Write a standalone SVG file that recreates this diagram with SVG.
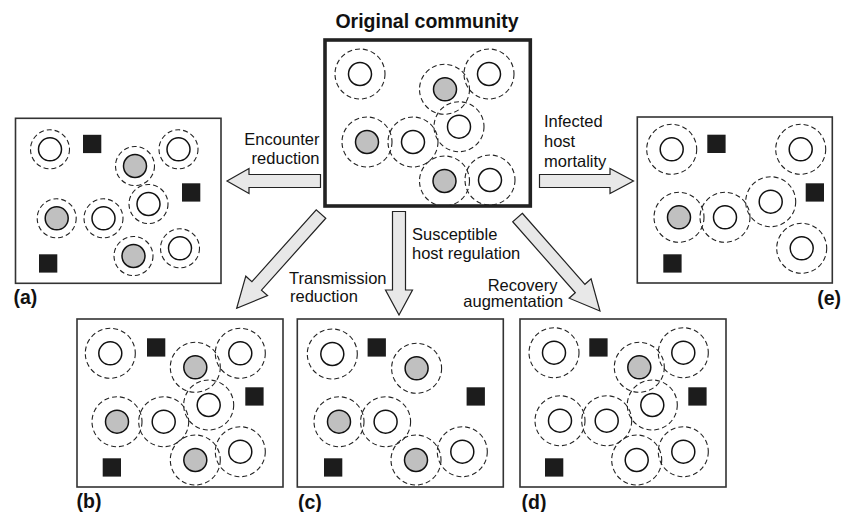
<svg xmlns="http://www.w3.org/2000/svg" width="843" height="512" viewBox="0 0 843 512">
<style>
.box{fill:#fff;stroke:#333;stroke-width:1.6}
.main{fill:#fff;stroke:#222;stroke-width:3.6}
.o{fill:none;stroke:#222;stroke-width:1.1;stroke-dasharray:5 3}
.w{fill:#fff;stroke:#111;stroke-width:1.5}
.g{fill:#c0c0c0;stroke:#111;stroke-width:1.5}
.sq{fill:#1c1c1c}
.arr{fill:#e8e8e8;stroke:#222;stroke-width:1.2;stroke-linejoin:miter}
.t{font-family:"Liberation Sans",Arial,sans-serif;font-size:16.5px;fill:#111}
.lb{font-family:"Liberation Sans",Arial,sans-serif;font-size:19.5px;font-weight:bold;fill:#111}
</style>
<rect width="843" height="512" fill="#fff"/>

<g id="connectors">
  <polygon class="arr" points="227,181 249,168.5 249,174.5 320.5,174.5 320.5,187.5 249,187.5 249,193.5"/>
  <polygon class="arr" points="539.5,174.5 610,174.5 610,168.5 633.5,181 610,193.5 610,187.5 539.5,187.5"/>
  <polygon class="arr" points="392.5,211.5 405.5,211.5 405.5,290 412.5,290 399,315 385.5,290 392.5,290"/>
  <polygon class="arr" transform="translate(321,214) rotate(131.8)" points="0,-6.4 96.5,-6.4 96.5,-14.6 126.5,0 96.5,14.6 96.5,6.4 0,6.4"/>
  <polygon class="arr" transform="translate(517.5,217.5) rotate(48.6)" points="0,-6.4 94.7,-6.4 94.7,-14.6 124.7,0 94.7,14.6 94.7,6.4 0,6.4"/>
</g>

<g id="labels">
  <text class="lb" x="427" y="28" text-anchor="middle">Original community</text>
  <text class="t" x="319.5" y="144.5" text-anchor="end">Encounter</text>
  <text class="t" x="319.5" y="164" text-anchor="end">reduction</text>
  <text class="t" x="544" y="127.3">Infected</text>
  <text class="t" x="544" y="147">host</text>
  <text class="t" x="544" y="166.7">mortality</text>
  <text class="t" x="289" y="284">Transmission</text>
  <text class="t" x="290" y="302">reduction</text>
  <text class="t" x="412" y="240">Susceptible</text>
  <text class="t" x="412" y="258.5">host regulation</text>
  <text class="t" x="487.7" y="290.5">Recovery</text>
  <text class="t" x="463.3" y="307">augmentation</text>
  <text class="lb" x="13.5" y="304">(a)</text>
  <text class="lb" x="76.5" y="507.5">(b)</text>
  <text class="lb" x="298" y="508.5">(c)</text>
  <text class="lb" x="521.5" y="509">(d)</text>
  <text class="lb" x="841" y="305" text-anchor="end">(e)</text>
</g>

<g id="original" transform="translate(325,40)">
  <rect class="main" x="0" y="0" width="205.3" height="166"/>
  <circle class="o" cx="35" cy="34" r="25"/><circle class="w" cx="35" cy="34" r="11.5"/>
  <circle class="o" cx="119.5" cy="49.3" r="25"/><circle class="g" cx="120" cy="49.3" r="11.5"/>
  <circle class="o" cx="164" cy="34" r="25"/><circle class="w" cx="164" cy="34" r="11.5"/>
  <circle class="o" cx="134" cy="86.7" r="25"/><circle class="w" cx="134" cy="86.7" r="11.5"/>
  <circle class="o" cx="42" cy="102" r="25"/><circle class="g" cx="42" cy="102" r="11.5"/>
  <circle class="o" cx="88" cy="102" r="25"/><circle class="w" cx="88" cy="102" r="11.5"/>
  <circle class="o" cx="119.5" cy="141" r="25"/><circle class="g" cx="119.5" cy="141" r="11.5"/>
  <circle class="o" cx="165" cy="140" r="25"/><circle class="w" cx="165" cy="140" r="11.5"/>
</g>

<g id="panel-a" transform="translate(15.5,118.3)">
  <rect class="box" x="0" y="0" width="205.5" height="165"/>
  <circle class="o" cx="34.5" cy="31" r="19.5"/><circle class="w" cx="34.5" cy="31" r="11.5"/>
  <circle class="o" cx="119.5" cy="47.7" r="19.5"/><circle class="g" cx="119.5" cy="47.7" r="11.5"/>
  <circle class="o" cx="163" cy="31" r="19.5"/><circle class="w" cx="163" cy="31" r="11.5"/>
  <circle class="o" cx="133" cy="85.7" r="19.5"/><circle class="w" cx="133" cy="85.7" r="11.5"/>
  <circle class="o" cx="41.2" cy="100" r="19.5"/><circle class="g" cx="41.2" cy="100" r="11.5"/>
  <circle class="o" cx="88" cy="100" r="19.5"/><circle class="w" cx="88" cy="100" r="11.5"/>
  <circle class="o" cx="118" cy="137.7" r="19.5"/><circle class="g" cx="118" cy="137.7" r="11.5"/>
  <circle class="o" cx="164.5" cy="130" r="19.5"/><circle class="w" cx="164.5" cy="130" r="11.5"/>
  <rect class="sq" x="67.5" y="16.5" width="18.3" height="18.3"/>
  <rect class="sq" x="166.5" y="65" width="18.3" height="18.3"/>
  <rect class="sq" x="23.5" y="136" width="18.3" height="18.3"/>
</g>

<g id="panel-b" transform="translate(77,319)">
  <rect class="box" x="0" y="0" width="206" height="168"/>
  <circle class="o" cx="33.3" cy="34.3" r="25"/><circle class="w" cx="33.3" cy="34.3" r="11.5"/>
  <circle class="o" cx="118.3" cy="48.3" r="25"/><circle class="g" cx="118.3" cy="48.3" r="11.5"/>
  <circle class="o" cx="163.3" cy="34.3" r="25"/><circle class="w" cx="163.3" cy="34.3" r="11.5"/>
  <circle class="o" cx="131.7" cy="86" r="25"/><circle class="w" cx="131.7" cy="86" r="11.5"/>
  <circle class="o" cx="40" cy="102.7" r="25"/><circle class="g" cx="40" cy="102.7" r="11.5"/>
  <circle class="o" cx="86.7" cy="102.7" r="25"/><circle class="w" cx="86.7" cy="102.7" r="11.5"/>
  <circle class="o" cx="118.3" cy="141" r="25"/><circle class="g" cx="118.3" cy="141" r="11.5"/>
  <circle class="o" cx="163.3" cy="132.7" r="25"/><circle class="w" cx="163.3" cy="132.7" r="11.5"/>
  <rect class="sq" x="70" y="19.3" width="18.3" height="18.3"/>
  <rect class="sq" x="168.3" y="68.3" width="18.3" height="18.3"/>
  <rect class="sq" x="25.7" y="139.3" width="18.3" height="18.3"/>
</g>

<g id="panel-c" transform="translate(297.3,319)">
  <rect class="box" x="0" y="0" width="206" height="168"/>
  <circle class="o" cx="35" cy="35" r="25"/><circle class="w" cx="35" cy="35" r="11.5"/>
  <circle class="o" cx="119.3" cy="49.3" r="25"/><circle class="g" cx="119.3" cy="49.3" r="11.5"/>
  <circle class="o" cx="41.7" cy="102.7" r="25"/><circle class="g" cx="41.7" cy="102.7" r="11.5"/>
  <circle class="o" cx="88.3" cy="102.7" r="25"/><circle class="w" cx="88.3" cy="102.7" r="11.5"/>
  <circle class="o" cx="118.7" cy="141" r="25"/><circle class="g" cx="118.7" cy="141" r="11.5"/>
  <circle class="o" cx="165" cy="132.7" r="25"/><circle class="w" cx="165" cy="132.7" r="11.5"/>
  <rect class="sq" x="70.3" y="19.3" width="18.3" height="18.3"/>
  <rect class="sq" x="169.3" y="68.3" width="18.3" height="18.3"/>
  <rect class="sq" x="26.7" y="139.3" width="18.3" height="18.3"/>
</g>

<g id="panel-d" transform="translate(520,319)">
  <rect class="box" x="0" y="0" width="206" height="168"/>
  <circle class="o" cx="34" cy="33.7" r="25"/><circle class="w" cx="34" cy="33.7" r="11.5"/>
  <circle class="o" cx="119.3" cy="48.3" r="25"/><circle class="g" cx="119.3" cy="48.3" r="11.5"/>
  <circle class="o" cx="163.3" cy="33.7" r="25"/><circle class="w" cx="163.3" cy="33.7" r="11.5"/>
  <circle class="o" cx="132.3" cy="86" r="25"/><circle class="w" cx="132.3" cy="86" r="11.5"/>
  <circle class="o" cx="40" cy="101.7" r="25"/><circle class="w" cx="40" cy="101.7" r="11.5"/>
  <circle class="o" cx="86.7" cy="101.7" r="25"/><circle class="w" cx="86.7" cy="101.7" r="11.5"/>
  <circle class="o" cx="116.7" cy="141" r="25"/><circle class="w" cx="116.7" cy="141" r="11.5"/>
  <circle class="o" cx="163.3" cy="132.7" r="25"/><circle class="w" cx="163.3" cy="132.7" r="11.5"/>
  <rect class="sq" x="69.3" y="19.3" width="18.3" height="18.3"/>
  <rect class="sq" x="168.3" y="68.3" width="18.3" height="18.3"/>
  <rect class="sq" x="25" y="139.3" width="18.3" height="18.3"/>
</g>

<g id="panel-e" transform="translate(637.3,117)">
  <rect class="box" x="0" y="0" width="195" height="166"/>
  <circle class="o" cx="34.4" cy="32.3" r="25"/><circle class="w" cx="34.4" cy="32.3" r="11.5"/>
  <circle class="o" cx="163.4" cy="32.3" r="25"/><circle class="w" cx="163.4" cy="32.3" r="11.5"/>
  <circle class="o" cx="41.7" cy="100.3" r="25"/><circle class="g" cx="41.7" cy="100.3" r="11.5"/>
  <circle class="o" cx="87.7" cy="100.3" r="25"/><circle class="w" cx="87.7" cy="100.3" r="11.5"/>
  <circle class="o" cx="133.4" cy="84.7" r="25"/><circle class="w" cx="133.4" cy="84.7" r="11.5"/>
  <circle class="o" cx="164.4" cy="131.3" r="25"/><circle class="w" cx="164.4" cy="131.3" r="11.5"/>
  <rect class="sq" x="70" y="17.7" width="18.3" height="18.3"/>
  <rect class="sq" x="168.4" y="66.3" width="18.3" height="18.3"/>
  <rect class="sq" x="26" y="137.3" width="18.3" height="18.3"/>
</g>
</svg>
